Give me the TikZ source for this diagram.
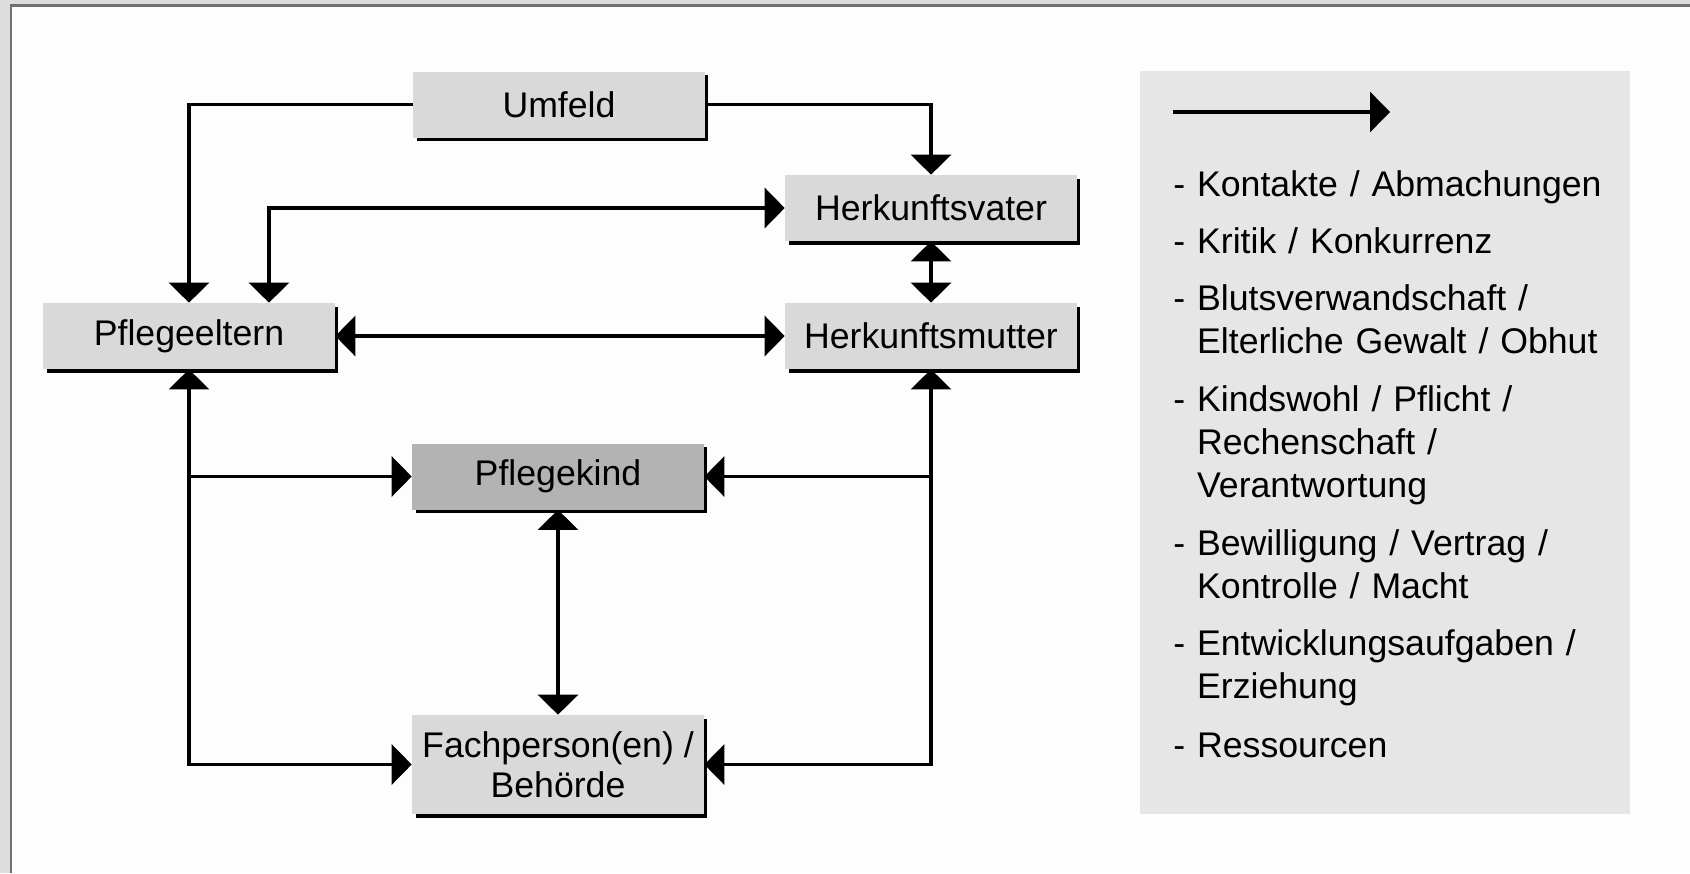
\documentclass[tikz,border=0pt]{standalone}
\usepackage{fontspec}
\setmainfont{Liberation Sans}
\usetikzlibrary{arrows.meta,shadows}

\definecolor{outergray}{HTML}{DDDDDD}
\definecolor{framegray}{HTML}{707070}
\definecolor{paper}{HTML}{FDFDFD}
\definecolor{boxgray}{HTML}{D9D9D9}
\definecolor{kidgray}{HTML}{B3B3B3}
\definecolor{leggray}{HTML}{E6E6E6}

\newcommand{\boxfont}{\fontsize{20.3}{23}\selectfont}
\newcommand{\legfont}{\fontsize{20.3}{24.5}\selectfont}
\newcommand{\legindent}{\hphantom{-\ }}

\tikzset{
  actor/.style={fill=boxgray, minimum width=5.84cm, minimum height=1.32cm,
    inner sep=0pt, align=center, font=\boxfont,
    drop shadow={shadow xshift=0.07cm, shadow yshift=-0.07cm, fill=black, opacity=1}},
  link/.style={line width=0.065cm, line join=miter},
  >={Triangle[width=0.8cm, length=0.4cm]},
  legitem/.style={anchor=base west, inner sep=0pt, font=\legfont,
    text width=9.4cm, align=left},
}

\begin{document}
\begin{tikzpicture}[x=0.02cm, y=-0.02cm]
  \useasboundingbox (0,0) rectangle (1690,873);
  % page frame
  \fill[outergray] (0,0) rectangle (1690,873);
  \fill[framegray] (10,4) rectangle (1690,873);
  \fill[paper] (12,7) rectangle (1690,873);
  % legend panel
  \fill[leggray] (1140,71) rectangle (1630,814);

  \node[actor] (umfeld) at (559,104.5) {Umfeld};
  \node[actor] (vater) at (931,208) {Herkunftsvater};
  \node[actor] (mutter) at (931,336) {Herkunftsmutter};
  \node[actor] (eltern) at (189,336) {Pflegeeltern};
  \node[actor, fill=kidgray] (kind) at (558,476.5) {Pflegekind};
  \node[actor, minimum height=1.98cm] (fach) at (558,764.5) {Fachperson(en) /\\Behörde};

  \draw[link,->] (umfeld.west) -| (eltern.north);
  \draw[link,->] (umfeld.east) -| (vater.north);
  \draw[link,<->] ([xshift=1.6cm]eltern.north) |- (vater.west);
  \draw[link,<->] (eltern.east) -- (mutter.west);
  \draw[link,<->] (vater.south) -- (mutter.north);
  \draw[link,<->] (eltern.south) |- (fach.west);
  \draw[link,->] (eltern.south |- kind.west) -- (kind.west);
  \draw[link,<->] (mutter.south) |- (fach.east);
  \draw[link,->] (mutter.south |- kind.east) -- (kind.east);
  \draw[link,<->] (kind.south) -- (fach.north);

  % legend
  \coordinate (legfrom) at (1173,112);
  \coordinate (legto) at (1390,112);
  \draw[link,->] (legfrom) -- (legto);
  \node[legitem] (kontakte) at (1173,196) {- Kontakte / Abmachungen};
  \node[legitem] (kritik) at (1173,253) {- Kritik / Konkurrenz};
  \node[legitem] (blut) at (1173,310.5) {- Blutsverwandschaft /\\\legindent Elterliche Gewalt / Obhut};
  \node[legitem] (wohl) at (1173,411) {- Kindswohl / Pflicht /\\\legindent Rechenschaft /\\\legindent Verantwortung};
  \node[legitem] (bewill) at (1173,555) {- Bewilligung / Vertrag /\\\legindent Kontrolle / Macht};
  \node[legitem] (entw) at (1173,655) {- Entwicklungsaufgaben /\\\legindent Erziehung};
  \node[legitem] (ress) at (1173,757) {- Ressourcen};
\end{tikzpicture}
\end{document}
